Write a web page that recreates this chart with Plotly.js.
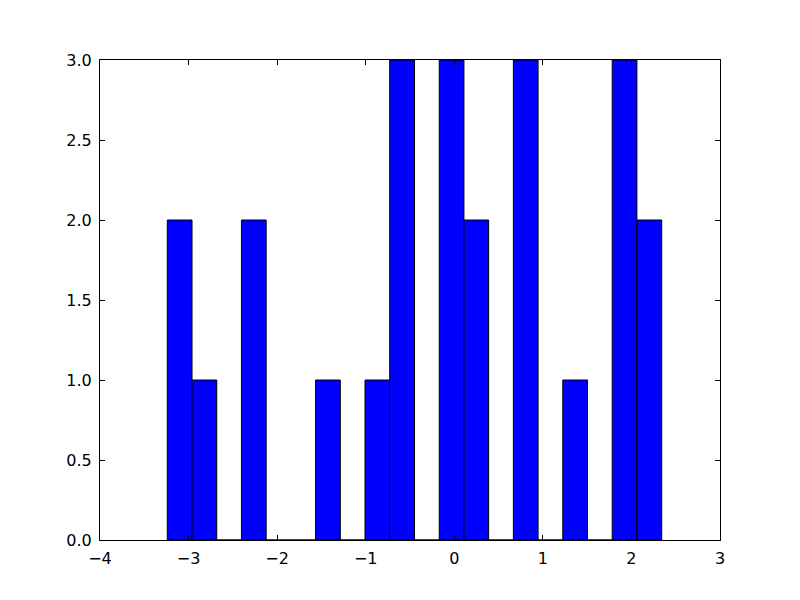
<!DOCTYPE html>
<html>
<head>
<meta charset="utf-8">
<script src="https://cdn.plot.ly/plotly-3.0.1.min.js"></script>
<style>html,body{margin:0;padding:0;background:#fff;}#chart{width:800px;height:600px;}</style>
</head>
<body>
<div id="chart"></div>
<script>
// Histogram bin edges (21 edges, 20 bins)
const binEdges = [-3.240, -2.961, -2.682, -2.403, -2.124, -1.845, -1.566, -1.287, -1.008, -0.729,
                  -0.449, -0.170, 0.109, 0.388, 0.667, 0.946, 1.225, 1.504, 1.783, 2.062, 2.342];
// Counts per bin
const counts = [2, 1, 0, 2, 0, 0, 1, 0, 1, 3, 0, 3, 2, 0, 3, 0, 1, 0, 3, 2];
const xTicks = [-4, -3, -2, -1, 0, 1, 2, 3];
const yTicks = [0, 0.5, 1.0, 1.5, 2.0, 2.5, 3.0];

const centers = counts.map((_, i) => (binEdges[i] + binEdges[i + 1]) / 2);
const widths = counts.map((_, i) => binEdges[i + 1] - binEdges[i]);

const trace = {
  type: 'bar',
  x: centers,
  y: counts,
  width: widths,
  marker: {color: '#0000ff', line: {color: '#000000', width: 1}},
  hoverinfo: 'skip'
};

const axisCommon = {
  showline: true, linecolor: '#000', linewidth: 1, mirror: 'allticks',
  ticks: 'inside', ticklen: 5, tickwidth: 1, tickcolor: '#000',
  showgrid: false, zeroline: false,
  tickfont: {family: 'DejaVu Sans', size: 16, color: '#000'}
};

const layout = {
  width: 800, height: 600,
  margin: {l: 100, r: 80, t: 60, b: 60, pad: 0},
  paper_bgcolor: '#fff', plot_bgcolor: '#fff',
  showlegend: false,
  bargap: 0,
  xaxis: Object.assign({}, axisCommon, {range: [-4, 3], tickvals: xTicks, ticktext: xTicks.map(v => v < 0 ? '\u2212' + Math.abs(v) : String(v)), ticklabelstandoff: 4}),
  yaxis: Object.assign({}, axisCommon, {range: [0, 3], tickvals: yTicks, ticktext: yTicks.map(v => v.toFixed(1)), ticklabelstandoff: 4})
};

Plotly.newPlot('chart', [trace], layout, {displayModeBar: false, staticPlot: true});
</script>
</body>
</html>
